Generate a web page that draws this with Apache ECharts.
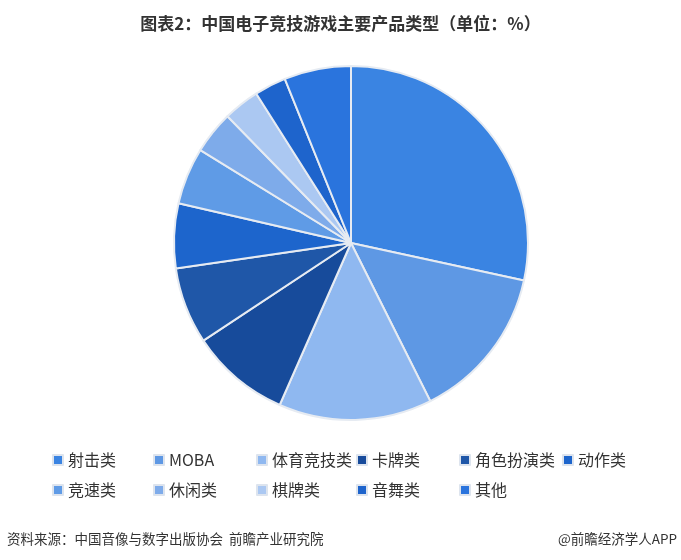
<!DOCTYPE html>
<html><head><meta charset="utf-8">
<script src="https://cdn.jsdelivr.net/npm/echarts@6/dist/echarts.min.js"></script>
<style>html,body{margin:0;padding:0;background:#fff}#c{width:681px;height:560px}</style>
</head><body><div id="c"></div>
<script>
const categories = ['射击类','MOBA','体育竞技类','卡牌类','角色扮演类','动作类','竞速类','休闲类','棋牌类','音舞类','其他'];
const values = [28.4, 14.2, 14.0, 9.1, 7.0, 5.9, 5.2, 3.9, 3.3, 2.9, 6.1];
const colors = ['#3a84e2','#5e98e4','#8fb8f0','#174b9b','#1f57a8','#1d65cc','#5f9be6','#7eabea','#abc8f2','#1e64cc','#2a74dd'];
const chart = echarts.init(document.getElementById('c'));
const colX = [52, 153, 256, 356, 459, 562];
const rowY = [452, 482];
const legends = categories.map((n, i) => ({
  orient: 'horizontal', itemWidth: 10, itemHeight: 10, icon: 'rect',
  itemStyle: {borderColor: '#dde4ee', borderWidth: 2},
  textStyle: {fontSize: 16, color: '#333', fontFamily: 'Noto Sans CJK SC'},
  itemGap: 0, padding: 0, selectedMode: false,
  left: colX[i % 6], top: rowY[Math.floor(i / 6)],
  data: [n]
}));
chart.setOption({
  animation: false,
  color: colors,
  title: {
    text: '图表2：中国电子竞技游戏主要产品类型（单位：%）',
    left: 'center', top: 10,
    textStyle: {fontSize: 17, fontWeight: 'bold', color: '#333', fontFamily: 'Noto Sans CJK SC'}
  },
  legend: legends,
  graphic: [
    {type: 'text', left: 7, top: 532, style: {text: '资料来源：中国音像与数字出版协会  前瞻产业研究院', fontSize: 13.5, fill: '#333', fontFamily: 'Noto Sans CJK SC'}},
    {type: 'text', right: 4, top: 532, style: {text: '@前瞻经济学人APP', fontSize: 13.5, fill: '#333', fontFamily: 'Noto Sans CJK SC'}}
  ],
  series: [{
    type: 'pie',
    center: [351, 243],
    radius: 177,
    startAngle: 90,
    clockwise: true,
    label: {show: false},
    labelLine: {show: false},
    itemStyle: {borderColor: '#e6ebf2', borderWidth: 2},
    emphasis: {disabled: true},
    data: categories.map((n, i) => ({name: n, value: values[i]}))
  }]
});
</script></body></html>
